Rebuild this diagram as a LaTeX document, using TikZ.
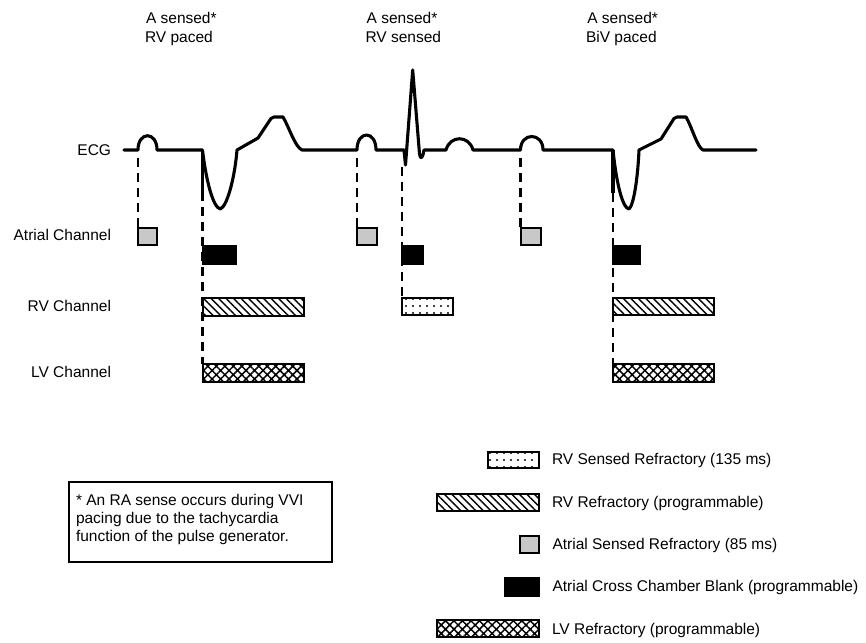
\documentclass[tikz,border=0pt]{standalone}
\usepackage{fontspec}
\setmainfont{Liberation Sans}
\usetikzlibrary{patterns.meta}
\definecolor{refgray}{RGB}{200,200,200}
\tikzset{
  ecg/.style={line width=3.1pt, line join=round, line cap=round},
  guide/.style={line width=2.2pt, dash pattern=on 9pt off 6pt},
  box/.style={draw, line width=2pt, inner sep=0pt, outer sep=0pt},
  graybox/.style={box, fill=refgray, minimum width=19pt, minimum height=17pt},
  blackbox/.style={box, fill=black, minimum height=18pt},
  hatchbox/.style={box, pattern={Lines[angle=-45,distance=5.3pt,line width=1.4pt]}, minimum height=17.5pt},
  crossbox/.style={box, pattern={Hatch[angle=45,distance=6pt,line width=1.5pt]}, minimum height=18pt},
  dotbox/.style={box, pattern={Dots[distance=7pt,radius=1.2pt]}, minimum height=17pt},
  lbl/.style={font=\fontsize{15.5}{19}\selectfont, inner sep=0pt, outer sep=0pt},
}
\begin{document}
\begin{tikzpicture}[x=1pt,y=-1pt]
\useasboundingbox (0,0) rectangle (866,642);
\clip (0,0) rectangle (866,642);

% top labels
\node[lbl, anchor=base west] (t1a) at (146,23.3) {A sensed*};
\node[lbl, anchor=base west] (t1b) at (145,42.3) {RV paced};
\node[lbl, anchor=base west] (t2a) at (366.7,23.3) {A sensed*};
\node[lbl, anchor=base west] (t2b) at (365.5,42.3) {RV sensed};
\node[lbl, anchor=base west] (t3a) at (587.3,23.3) {A sensed*};
\node[lbl, anchor=base west] (t3b) at (586,42.3) {BiV paced};

% row labels
\node[lbl, anchor=base east] (ecgl) at (111,155.5) {ECG};
\node[lbl, anchor=base east] (atl) at (111,240) {Atrial Channel};
\node[lbl, anchor=base east] (rvl) at (111,311) {RV Channel};
\node[lbl, anchor=base east] (lvl) at (111,377) {LV Channel};

% ECG trace
\draw[ecg] (124,150) -- (138,150) .. controls (138,131) and (157,131) .. (157,150) -- (202.5,150)
  .. controls (206,180) and (213,208) .. (220.5,209) .. controls (228,205) and (235,175) .. (237,150)
  -- (258,138) -- (271,118.5) .. controls (272,117) .. (274,117) -- (283,117)
  .. controls (289,127) and (295,147) .. (302,150)
  -- (357,150) .. controls (357,130) and (376,130) .. (376,150)
  -- (404,150) -- (405.5,165) -- (412.7,70) -- (419.5,154) .. controls (420.5,160) and (422.5,159) .. (424,150)
  -- (446,150) .. controls (450,135) and (469,135) .. (473,150)
  -- (520.5,150) .. controls (520.5,132) and (543,132) .. (543,150)
  -- (613,150) .. controls (616,180) and (622,208) .. (629,209) .. controls (634,205) and (638,175) .. (639,150)
  -- (661,139) -- (674,118.5) .. controls (675,117) .. (677,117) -- (686,117)
  .. controls (692,127) and (697,147) .. (703,150) -- (756,150);

% pacing spikes
\coordinate (v1) at (202.5,150);
\coordinate (s1) at (202.5,192);
\coordinate (v3) at (613,150);
\coordinate (s3) at (613,193);
\draw[ecg, line cap=butt] (v1) -- (s1);
\draw[ecg, line cap=butt] (v3) -- (s3);

% guide start points
\coordinate (p1) at (138,158);
\coordinate (p2) at (357,158);
\coordinate (q2) at (401.7,167);
\coordinate (p3) at (520.5,158);

% channel boxes
\node[graybox] (g1) at (147.5,236) {};
\node[blackbox, minimum width=33.5pt] (b1) at (219.25,255) {};
\node[hatchbox, minimum width=101pt] (r1) at (253,306.8) {};
\node[crossbox, minimum width=101pt] (l1) at (253,373) {};

\node[graybox, minimum width=20pt] (g2) at (367,236) {};
\node[blackbox, minimum width=21pt] (b2) at (412.2,255) {};
\node[dotbox, minimum width=51pt] (d2) at (427.2,306.5) {};

\node[graybox, minimum width=20pt] (g3) at (530.5,236) {};
\node[blackbox, minimum width=27pt] (b3) at (626.5,255) {};
\node[hatchbox, minimum width=101pt] (r3) at (663.5,306.5) {};
\node[crossbox, minimum width=101pt] (l3) at (663.5,372.8) {};

% dashed guides
\draw[guide] (p1) -- (g1.north west);
\draw[guide] (s1) -- (l1.north west);
\draw[guide] (p2) -- (g2.north west);
\draw[guide] (q2) -- (d2.north west);
\draw[guide] (p3) -- (g3.north west);
\draw[guide] (s3) -- (l3.north west);

% note
\node[draw, line width=1.2pt, minimum width=263pt, minimum height=80pt, inner sep=0pt] (note) at (200.5,522) {};
\node[lbl, anchor=base west] (n1) at (76,505) {* An RA sense occurs during VVI};
\node[lbl, anchor=base west] (n2) at (76,523.3) {pacing due to the tachycardia};
\node[lbl, anchor=base west] (n3) at (76,541.7) {function of the pulse generator.};

% legend
\node[dotbox, minimum width=51pt, minimum height=16pt] (kd) at (513.5,460) {};
\node[hatchbox, minimum width=102pt, minimum height=17pt] (kr) at (488,502.5) {};
\node[graybox] (kg) at (529.5,544.5) {};
\node[blackbox, minimum width=34pt] (kb) at (522,587) {};
\node[crossbox, minimum width=102pt, minimum height=17pt] (kl) at (488,628.5) {};

\node[lbl, anchor=base west] (kdt) at (552,464.3) {RV Sensed Refractory (135 ms)};
\node[lbl, anchor=base west] (krt) at (552,507.3) {RV Refractory (programmable)};
\node[lbl, anchor=base west] (kgt) at (552.5,549) {Atrial Sensed Refractory (85 ms)};
\node[lbl, anchor=base west] (kbt) at (552.5,591.7) {Atrial Cross Chamber Blank (programmable)};
\node[lbl, anchor=base west] (klt) at (552,634.3) {LV Refractory (programmable)};
\end{tikzpicture}
\end{document}
